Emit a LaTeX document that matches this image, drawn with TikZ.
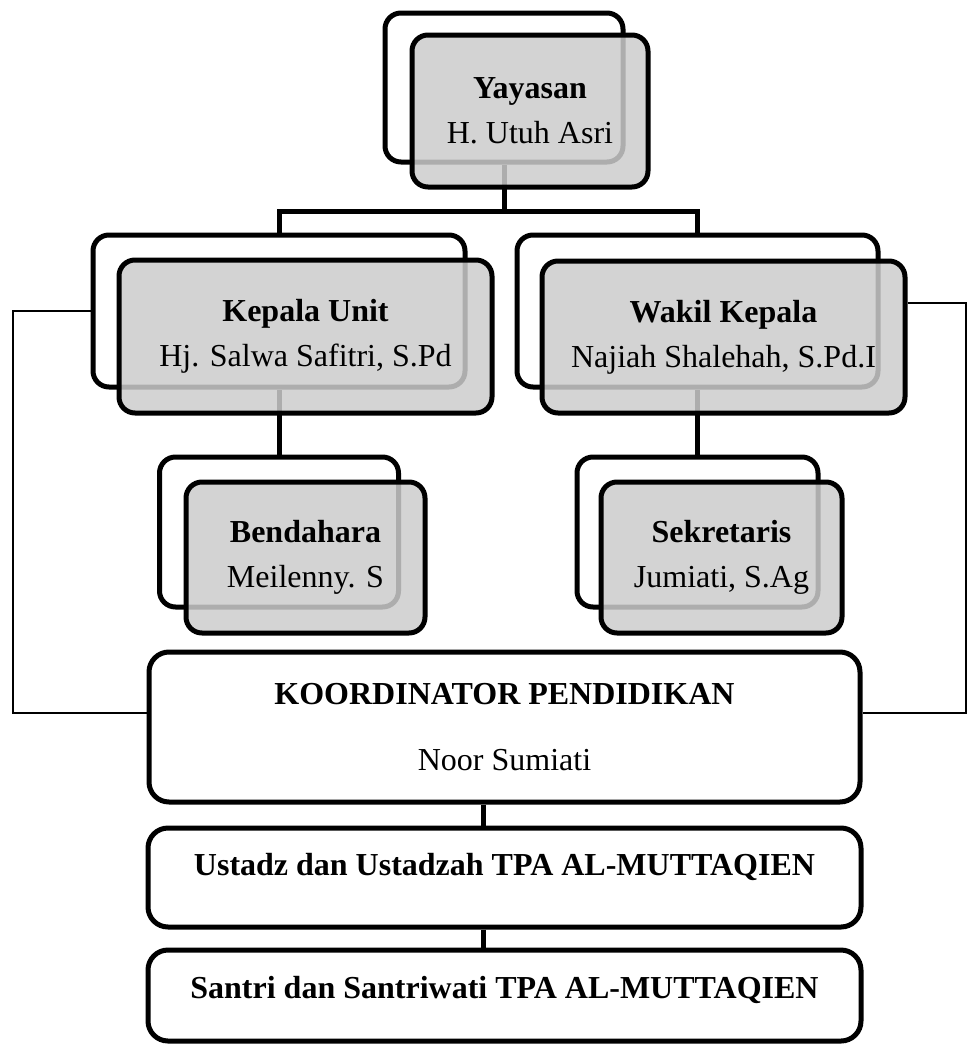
\documentclass[tikz,border=0pt]{standalone}
\usepackage{fontspec}
\setmainfont{Liberation Serif}

\begin{document}
\begin{tikzpicture}[x=1pt,y=-1pt]
    \tikzstyle{back} = [draw,line width=5pt,rounded corners=16pt,fill=white,inner sep=0pt]
    \tikzstyle{front} = [draw,line width=5pt,rounded corners=16pt,fill=black!20,fill opacity=0.85,text opacity=1,inner sep=0pt,align=center,font=\fontsize{32}{45}\selectfont]
    \tikzstyle{plain} = [draw,line width=5pt,rounded corners=20pt,fill=white,inner sep=0pt,align=center,font=\fontsize{32}{45}\selectfont]
    \tikzstyle{link} = [line width=5pt]
    \tikzstyle{side} = [line width=2pt]
    \useasboundingbox (0,0) rectangle (972,1047);

    \node[back,minimum width=238pt,minimum height=149pt] (yayasanB) at (504,87.5) {};
    \node[back,minimum width=372pt,minimum height=152pt] (kepalaB) at (279,311) {};
    \node[back,minimum width=361pt,minimum height=152pt] (wakilB) at (697.5,311) {};
    \node[back,minimum width=239pt,minimum height=150pt] (bendaharaB) at (279,532) {};
    \node[back,minimum width=241pt,minimum height=150pt] (sekretarisB) at (697.5,532) {};

    \coordinate (bus) at (504,211);
    \coordinate (stem) at (483,0);
    \coordinate (lcorner) at (13,713);
    \coordinate (rtop) at (966,303);
    \coordinate (rcorner) at (966,713);

    \draw[link] (yayasanB.south) -- (bus);
    \draw[link] (kepalaB.north) |- (bus) -| (wakilB.north);
    \draw[link] (kepalaB.south) -- (bendaharaB.north);
    \draw[link] (wakilB.south) -- (sekretarisB.north);

    \node[front,minimum width=236pt,minimum height=152pt] (yayasan) at (530,111) {\textbf{Yayasan}\\H. Utuh Asri};
    \node[front,minimum width=373pt,minimum height=153pt] (kepala) at (305.5,336.5) {\textbf{Kepala Unit}\\Hj. Salwa Safitri, S.Pd};
    \node[front,minimum width=363pt,minimum height=152pt] (wakil) at (723.5,337) {\textbf{Wakil Kepala}\\Najiah Shalehah, S.Pd.I};
    \node[front,minimum width=239pt,minimum height=151pt] (bendahara) at (305.5,557.5) {\textbf{Bendahara}\\Meilenny. S};
    \node[front,minimum width=241pt,minimum height=151pt] (sekretaris) at (721.5,557.5) {\textbf{Sekretaris}\\Jumiati, S.Ag};

    \node[plain,minimum width=711pt,minimum height=150pt] (koord) at (504.5,727) {\textbf{KOORDINATOR PENDIDIKAN}\\[21pt]Noor Sumiati};
    \node[plain,minimum width=713pt,minimum height=99pt,text height=22pt,text depth=27pt] (ustadz) at (504.5,877.5) {\textbf{Ustadz dan Ustadzah TPA AL-MUTTAQIEN}};
    \node[plain,minimum width=713pt,minimum height=91pt,text height=22pt,text depth=16pt] (santri) at (504.5,995.5) {\textbf{Santri dan Santriwati TPA AL-MUTTAQIEN}};

    \draw[link] (koord.south -| stem) -- (ustadz.north -| stem);
    \draw[link] (ustadz.south -| stem) -- (santri.north -| stem);
    \draw[side] (kepalaB.west) -| (lcorner) -- (lcorner -| koord.west);
    \draw[side] (rtop -| wakil.east) -- (rtop) -- (rcorner) -- (rcorner -| koord.east);

\end{tikzpicture}
\end{document}
